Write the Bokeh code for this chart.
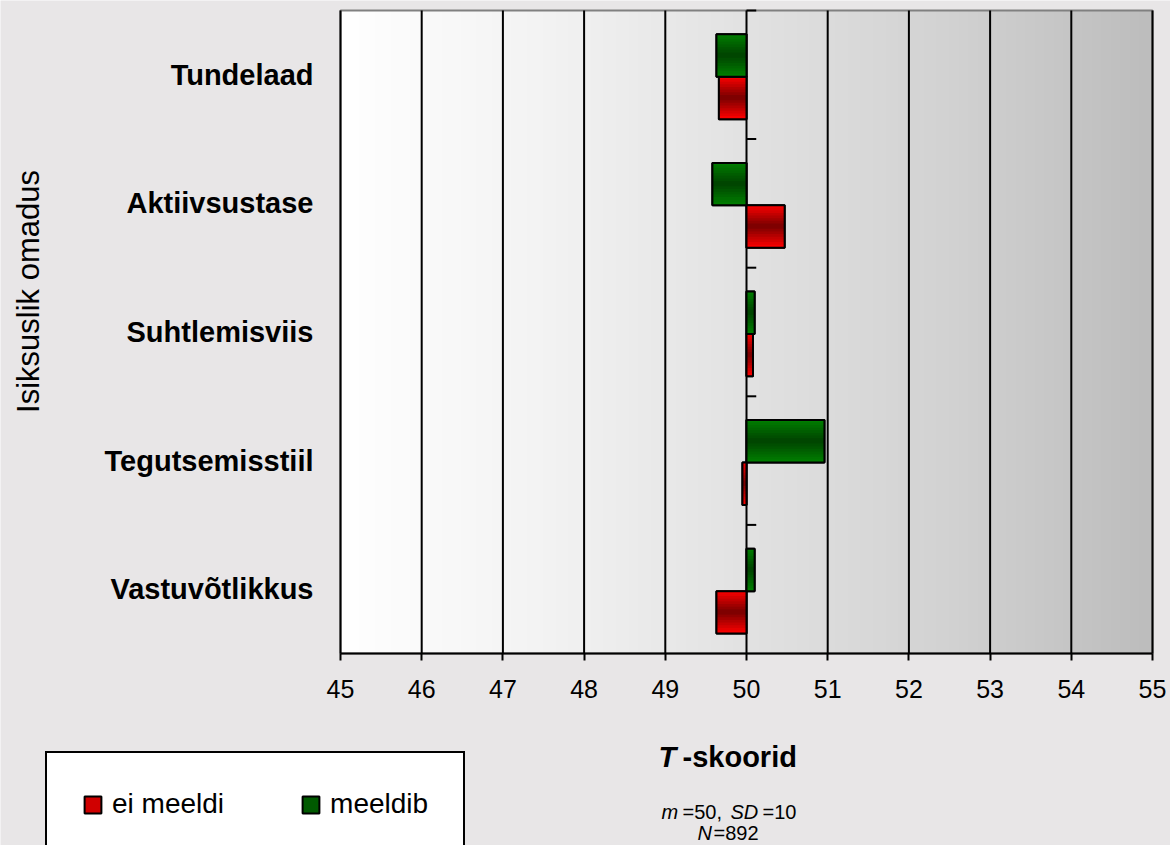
import numpy as np
from math import pi

from bokeh.plotting import figure
from bokeh.models import (ColumnDataSource, FixedTicker, Label, Legend,
                          LegendItem, Range1d)
from bokeh.embed import file_html
from bokeh.resources import INLINE

# ---- data -------------------------------------------------------------
categories = ["Tundelaad", "Aktiivsustase", "Suhtlemisviis", "Tegutsemisstiil", "Vastuvõtlikkus"]
meeldib = [49.63, 49.58, 50.10, 50.96, 50.10]      # green series
ei_meeldi = [49.66, 50.47, 50.08, 49.95, 49.63]    # red series
x_ticks = list(range(45, 56))
series_names = ["ei meeldi", "meeldib"]
BASE = 50  # T-score mean, bars grow from here

# ---- geometry: the frame fills the whole canvas, the scored area sits inside
W, H = 1170, 845
FONT = "Liberation Sans"
n = len(categories)
XMIN, XMAX = x_ticks[0], x_ticks[-1]
AL, AR, AT, AB = 340, 1152, 10, 653          # pixel box of the scored area
XPP = (XMAX - XMIN) / (AR - AL)              # data units per pixel
YPP = n / (AB - AT)

def dx(px):
    return XMIN + (px - AL) * XPP

def dy(py):
    return (AB - py) * YPP

centers = [n - i - 0.5 for i in range(n)]   # first category at the top

p = figure(width=W, height=H,
           x_range=Range1d(dx(0), dx(W)), y_range=Range1d(dy(H), dy(0)),
           output_backend="svg", toolbar_location=None, min_border=0)
p.border_fill_color = "#e8e6e7"
p.background_fill_color = "#e8e6e7"
p.outline_line_color = None
p.xgrid.visible = False
p.ygrid.visible = False

# ---- scored-area gradient (white to grey, left to right) ----------------
NX = 256
xs = np.linspace(XMIN, XMAX, NX)
shade = np.interp(xs, [45, 47.5, 50, 52.5, 55], [255, 243, 226, 210, 189]).astype(np.uint8)
img = np.empty((1, NX), dtype=np.uint32)
view = img.view(dtype=np.uint8).reshape((1, NX, 4))
view[0, :, 0] = shade
view[0, :, 1] = shade
view[0, :, 2] = shade
view[0, :, 3] = 255
p.image_rgba(image=[img], x=XMIN, y=0, dw=XMAX - XMIN, dh=n)

# frame outline and vertical grid lines
p.quad(left=[XMIN], right=[XMAX], bottom=[0], top=[n], fill_color=None,
       line_color="#808080", line_width=2)
p.segment(x0=x_ticks, y0=[0] * len(x_ticks), x1=x_ticks, y1=[n] * len(x_ticks),
          line_color="black", line_width=2)

# ---- axes pinned to the scored area -------------------------------------
p.xaxis.fixed_location = 0
p.xaxis.bounds = (XMIN, XMAX)
p.xaxis.ticker = FixedTicker(ticks=x_ticks)
p.xaxis.axis_line_color = "black"
p.xaxis.axis_line_width = 2
p.xaxis.major_tick_line_color = "black"
p.xaxis.major_tick_line_width = 2
p.xaxis.major_tick_out = 7
p.xaxis.major_tick_in = 0
p.xaxis.minor_tick_line_color = None
p.xaxis.major_label_standoff = 19
p.xaxis.major_label_text_font = FONT
p.xaxis.major_label_text_font_size = "25px"
p.xaxis.major_label_text_color = "black"

p.yaxis.fixed_location = XMIN
p.yaxis.bounds = (0, n)
p.yaxis.ticker = FixedTicker(ticks=centers)
p.yaxis.major_label_overrides = {c: name for c, name in zip(centers, categories)}
p.yaxis.axis_line_color = None
p.yaxis.major_tick_line_color = None
p.yaxis.minor_tick_line_color = None
p.yaxis.major_tick_out = 0
p.yaxis.major_label_standoff = 27
p.yaxis.major_label_text_font = FONT
p.yaxis.major_label_text_font_size = "29px"
p.yaxis.major_label_text_font_style = "bold"
p.yaxis.major_label_text_color = "black"

# ---- bars with a vertical shading (bright edges, dark middle) ---------
BAR_H = 0.33
K = 16

def shaded_source(vals, offset, edge, mid):
    ys, lefts, rights, colors = [], [], [], []
    for c, v in zip(centers, vals):
        for k in range(K):
            t = (k + 0.5) / K
            d = 1 - abs(2 * t - 1)
            rgb = tuple(int(round(e * (1 - d) + m * d)) for e, m in zip(edge, mid))
            ys.append(c + offset + BAR_H / 2 - (k + 0.5) * BAR_H / K)
            lefts.append(min(v, BASE))
            rights.append(max(v, BASE))
            colors.append("#%02x%02x%02x" % rgb)
    return ColumnDataSource(dict(y=ys, left=lefts, right=rights, color=colors))

def bar_source(vals, offset):
    return ColumnDataSource(dict(
        y=[c + offset for c in centers],
        left=[min(v, BASE) for v in vals],
        right=[max(v, BASE) for v in vals]))

series = [
    (series_names[0], ei_meeldi, -0.18, (255, 0, 0), (118, 0, 0), "#d00000"),
    (series_names[1], meeldib, 0.15, (0, 128, 0), (0, 66, 0), "#005a00"),
]

legend_items = []
for name, vals, off, edge, mid, flat in series:
    src = bar_source(vals, off)
    base = p.hbar(y="y", left="left", right="right", height=BAR_H, source=src,
                  fill_color=flat, line_color="black", line_width=2)
    p.hbar(y="y", left="left", right="right", height=BAR_H / K * 1.3,
           source=shaded_source(vals, off, edge, mid),
           fill_color="color", line_color=None)
    p.hbar(y="y", left="left", right="right", height=BAR_H, source=src,
           fill_color=None, line_color="black", line_width=2)
    legend_items.append(LegendItem(label=name, renderers=[base]))

# small category tick marks on the value-50 axis
bounds = [i + 1 for i in range(n)]
p.segment(x0=[BASE] * n, y0=bounds, x1=[BASE + 0.12] * n, y1=bounds,
          line_color="black", line_width=2)

# ---- legend (bottom-left, box runs past the lower edge) -----------------
legend = Legend(items=legend_items, orientation="horizontal",
                location=(45, -12), padding=35, spacing=76, margin=0,
                glyph_width=21, glyph_height=21, label_standoff=9,
                label_text_font=FONT, label_text_font_size="28px",
                label_text_color="black",
                border_line_color="black", border_line_width=2,
                border_line_alpha=1.0,
                background_fill_color="white", background_fill_alpha=1)
p.add_layout(legend)

# ---- titles and notes -------------------------------------------------
def txt(x, y, s, size, style="normal", align="left", baseline="alphabetic", angle=0):
    p.add_layout(Label(x=x, y=y, text=s, angle=angle, text_font=FONT,
                       text_font_size=size, text_font_style=style,
                       text_color="black", text_align=align,
                       text_baseline=baseline))

txt(dx(28), dy(291), "Isiksuslik omadus", "31px", align="center",
    baseline="middle", angle=pi / 2)

txt(dx(658), dy(756), "T", "29px", style="bold italic")
txt(dx(682), dy(756), "-skoorid", "29px", style="bold")

txt(dx(661), dy(811), "m", "20px", style="italic")
txt(dx(682), dy(811), "=50,", "20px")
txt(dx(730), dy(811), "SD", "20px", style="italic")
txt(dx(762), dy(811), "=10", "20px")
txt(dx(697), dy(832), "N", "20px", style="italic")
txt(dx(713), dy(832), "=892", "20px")

open("out.html", "w").write(file_html(p, INLINE))
